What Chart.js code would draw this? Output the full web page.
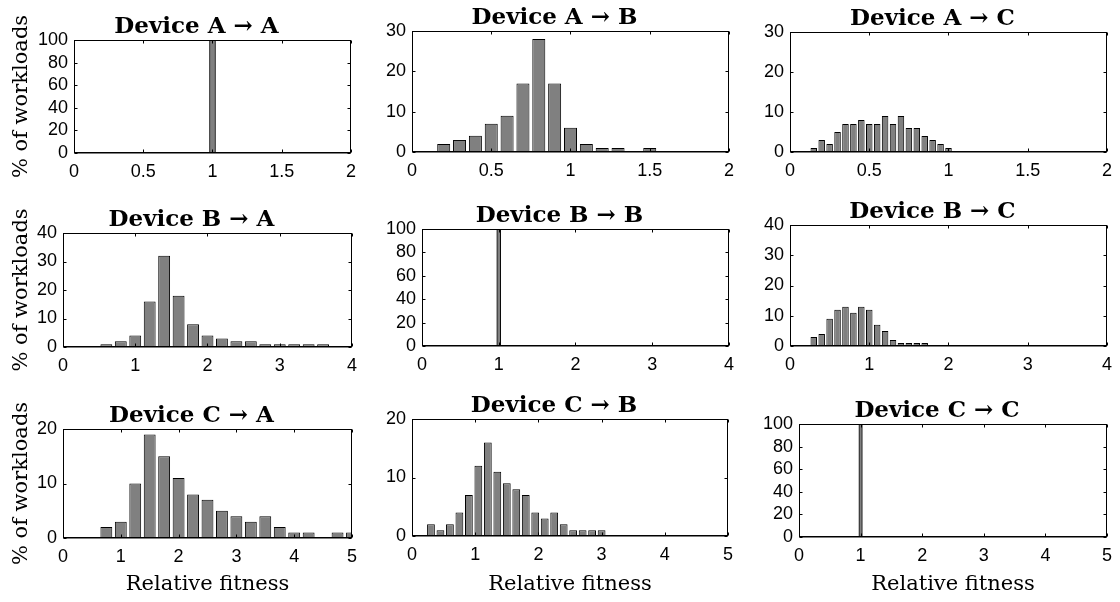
<!DOCTYPE html>
<html lang="en">
<head>
<meta charset="UTF-8">
<title>Relative fitness histograms</title>
<script src="https://cdn.jsdelivr.net/npm/chart.js"></script>
<style>
  html, body { margin: 0; padding: 0; background: #fff; overflow: hidden; }
  #wrap { position: relative; width: 1120px; height: 602px; }
  canvas { position: absolute; }
</style>
</head>
<body>
<div id="wrap"></div>
<script>
// histogram bins (bin centres) and % of workloads per bin
const binsAA = [1];
const pctAA = [100];
const binsAB = [0.2, 0.3, 0.4, 0.5, 0.6, 0.7, 0.8, 0.9, 1.0, 1.1, 1.2, 1.3, 1.4, 1.5];
const pctAB = [2, 3, 4, 7, 9, 17, 28, 17, 6, 2, 1, 1, 0, 1];
const binsAC = [0.15, 0.2, 0.25, 0.3, 0.35, 0.4, 0.45, 0.5, 0.55, 0.6, 0.65, 0.7, 0.75, 0.8, 0.85, 0.9, 0.95, 1.0];
const pctAC = [1, 3, 2, 5, 7, 7, 8, 7, 7, 9, 7, 9, 6, 6, 4, 3, 2, 1];
const binsBA = [0.6, 0.8, 1.0, 1.2, 1.4, 1.6, 1.8, 2.0, 2.2, 2.4, 2.6, 2.8, 3.0, 3.2, 3.4, 3.6];
const pctBA = [1, 2, 4, 16, 32, 18, 8, 4, 3, 2, 2, 1, 1, 1, 1, 1];
const binsBB = [1];
const pctBB = [100];
const binsBC = [0.3, 0.4, 0.5, 0.6, 0.7, 0.8, 0.9, 1.0, 1.1, 1.2, 1.3, 1.4, 1.5, 1.6, 1.7];
const pctBC = [3, 4, 9, 12, 13, 11, 13, 12, 7, 5, 2, 1, 1, 1, 1];
const binsCA = [0.75, 1.0, 1.25, 1.5, 1.75, 2.0, 2.25, 2.5, 2.75, 3.0, 3.25, 3.5, 3.75, 4.0, 4.25, 4.5, 4.75, 5.0];
const pctCA = [2, 3, 10, 19, 15, 11, 8, 7, 5, 4, 3, 4, 2, 1, 1, 0, 1, 1];
const binsCB = [0.3, 0.45, 0.6, 0.75, 0.9, 1.05, 1.2, 1.35, 1.5, 1.65, 1.8, 1.95, 2.1, 2.25, 2.4, 2.55, 2.7, 2.85, 3.0];
const pctCB = [2, 1, 2, 4, 7, 12, 16, 11, 9, 8, 7, 4, 3, 4, 2, 1, 1, 1, 1];
const binsCC = [1];
const pctCC = [100];

// tick labels
const xTicks2 = [0, 0.5, 1, 1.5, 2];
const xTicks4 = [0, 1, 2, 3, 4];
const xTicks5 = [0, 1, 2, 3, 4, 5];
const yTicks100 = [0, 20, 40, 60, 80, 100];
const yTicks40 = [0, 10, 20, 30, 40];
const yTicks30 = [0, 10, 20, 30];
const yTicks20 = [0, 10, 20];

const titles = ['Device A \u2192 A', 'Device A \u2192 B', 'Device A \u2192 C',
                'Device B \u2192 A', 'Device B \u2192 B', 'Device B \u2192 C',
                'Device C \u2192 A', 'Device C \u2192 B', 'Device C \u2192 C'];
const yLabel = '% of workloads';
const xLabel = 'Relative fitness';

// panel layout: plot box [left, top, right, bottom] in page pixels
const panels = [
  { bins: binsAA, pct: pctAA, xTicks: xTicks2, yTicks: yTicks100, box: [74, 40, 358, 153], barPx: 6 },
  { bins: binsAB, pct: pctAB, xTicks: xTicks2, yTicks: yTicks30, box: [412, 31, 736, 152] },
  { bins: binsAC, pct: pctAC, xTicks: xTicks2, yTicks: yTicks30, box: [790, 32, 1114, 152] },
  { bins: binsBA, pct: pctBA, xTicks: xTicks4, yTicks: yTicks40, box: [63, 233, 359, 347] },
  { bins: binsBB, pct: pctBB, xTicks: xTicks4, yTicks: yTicks100, box: [422, 229, 736, 346], barPx: 4 },
  { bins: binsBC, pct: pctBC, xTicks: xTicks4, yTicks: yTicks40, box: [790, 225, 1114, 346] },
  { bins: binsCA, pct: pctCA, xTicks: xTicks5, yTicks: yTicks20, box: [63, 429, 359, 538] },
  { bins: binsCB, pct: pctCB, xTicks: xTicks5, yTicks: yTicks20, box: [412, 419, 735, 536] },
  { bins: binsCC, pct: pctCC, xTicks: xTicks5, yTicks: yTicks100, box: [799, 424, 1114, 537], barPx: 3.5 }
];

const TITLE_SPACE = 26;
const RIGHT_PAD = 6;
const TICK = 3;

Chart.defaults.color = '#000';

// matlab style box with inner ticks on all four sides, plus the panel title
const boxPlugin = {
  id: 'matlabBox',
  afterDatasetsDraw(chart, args, opts) {
    const { ctx, chartArea: a } = chart;
    const x = chart.scales.x, y = chart.scales.y;
    const L = Math.round(a.left) + 0.5, R = Math.round(a.right) - 0.5;
    const T = Math.round(a.top) + 0.5, B = Math.round(a.bottom) - 0.5;
    ctx.save();
    ctx.strokeStyle = '#000';
    ctx.lineWidth = 1;
    ctx.beginPath();
    x.ticks.forEach(t => {
      const px = Math.round(x.getPixelForValue(t.value)) + 0.5;
      ctx.moveTo(px, B); ctx.lineTo(px, B - TICK);
      ctx.moveTo(px, T); ctx.lineTo(px, T + TICK);
    });
    y.ticks.forEach(t => {
      const py = Math.round(y.getPixelForValue(t.value)) + 0.5;
      ctx.moveTo(L, py); ctx.lineTo(L + TICK, py);
      ctx.moveTo(R, py); ctx.lineTo(R - TICK, py);
    });
    ctx.stroke();
    ctx.strokeRect(L, T, R - L, B - T);
    ctx.beginPath();
    ctx.moveTo(L, B + 0.5); ctx.lineTo(R, B + 0.5);
    ctx.stroke();

    ctx.font = 'bold 23px "DejaVu Serif"';
    ctx.fillStyle = '#000';
    ctx.textAlign = 'center';
    ctx.textBaseline = 'alphabetic';
    ctx.fillText(opts.text, (a.left + a.right) / 2 - 16, a.top - 7);
    ctx.restore();
  }
};

const wrap = document.getElementById('wrap');

panels.forEach((p, i) => {
  const row = Math.floor(i / 3), col = i % 3;
  const [l, t, r, b] = p.box;
  const yw = col === 0 ? l : 50;
  const xh = row === 2 ? 597 - b : 34;
  const w = yw + (r - l) + RIGHT_PAD;
  const h = TITLE_SPACE + (b - t) + xh;

  const canvas = document.createElement('canvas');
  canvas.width = w;
  canvas.height = h;
  canvas.style.left = (l - yw) + 'px';
  canvas.style.top = (t - TITLE_SPACE) + 'px';
  canvas.style.width = w + 'px';
  canvas.style.height = h + 'px';
  wrap.appendChild(canvas);

  const tickFont = { family: 'Liberation Sans', size: 18 };
  const labelFont = { family: 'DejaVu Serif', size: 21 };

  new Chart(canvas, {
    type: 'bar',
    data: {
      datasets: [{
        data: p.bins.map((v, k) => ({ x: v, y: p.pct[k] })),
        backgroundColor: 'rgb(128,128,128)',
        borderColor: '#000',
        borderWidth: 1,
        borderSkipped: false,
        barPercentage: 0.82,
        categoryPercentage: 1,
        barThickness: p.barPx,
        clip: 0
      }]
    },
    options: {
      responsive: false,
      animation: false,
      devicePixelRatio: 1,
      layout: { padding: { top: TITLE_SPACE, right: RIGHT_PAD, left: 0, bottom: 0 } },
      plugins: {
        legend: { display: false },
        tooltip: { enabled: false },
        matlabBox: { text: titles[i] }
      },
      scales: {
        x: {
          type: 'linear',
          min: p.xTicks[0],
          max: p.xTicks[p.xTicks.length - 1],
          offset: false,
          grid: { display: false, drawTicks: false },
          border: { display: false },
          afterBuildTicks: s => { s.ticks = p.xTicks.map(v => ({ value: v })); },
          afterFit: s => { s.height = xh; },
          ticks: {
            autoSkip: false, maxRotation: 0, padding: 8,
            font: tickFont, color: '#000',
            callback: v => String(v)
          },
          title: {
            display: row === 2, text: xLabel, font: labelFont, color: '#000',
            padding: { top: 0, bottom: 0 }
          }
        },
        y: {
          min: 0,
          max: p.yTicks[p.yTicks.length - 1],
          grid: { display: false, drawTicks: false },
          border: { display: false },
          afterBuildTicks: s => { s.ticks = p.yTicks.map(v => ({ value: v })); },
          afterFit: s => { s.width = yw; },
          ticks: {
            autoSkip: false, padding: 6,
            font: tickFont, color: '#000',
            callback: v => String(v)
          },
          title: {
            display: col === 0, text: yLabel, font: labelFont, color: '#000',
            padding: { top: 9, bottom: 0 }
          }
        }
      }
    },
    plugins: [boxPlugin]
  });
});
</script>
</body>
</html>
